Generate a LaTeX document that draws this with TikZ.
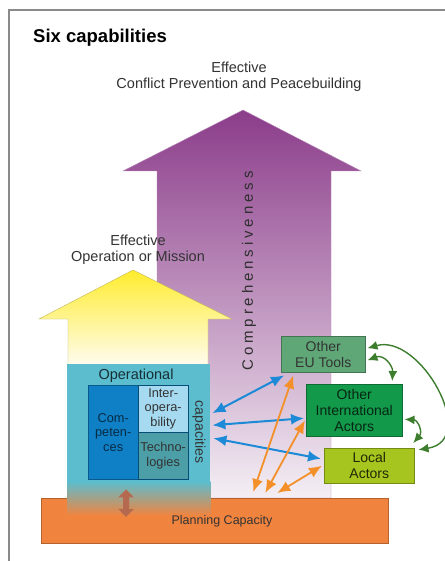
\documentclass[tikz,border=0pt]{standalone}
\usepackage{fontspec}
\setmainfont{Liberation Sans}
\usetikzlibrary{arrows.meta,calc}
\definecolor{frame}{HTML}{8A8A8A}
\definecolor{txt}{HTML}{333333}
\definecolor{purptop}{HTML}{8B3C8A}
\definecolor{purpbot}{HTML}{F4EFF4}
\definecolor{yeltop}{HTML}{FFEC2E}
\definecolor{yelbot}{HTML}{FFFCEF}
\definecolor{opteal}{HTML}{5CBDCE}
\definecolor{compblue}{HTML}{0F7FC6}
\definecolor{interblue}{HTML}{A6DAF1}
\definecolor{techteal}{HTML}{4C9EA7}
\definecolor{planor}{HTML}{F0843F}
\definecolor{eugreen}{HTML}{5FA777}
\definecolor{intgreen}{HTML}{13994A}
\definecolor{locgreen}{HTML}{A6C61F}
\definecolor{arrblue}{HTML}{1C8AD6}
\definecolor{arror}{HTML}{F39029}
\definecolor{arrgreen}{HTML}{3D7D2E}
\definecolor{arrbrown}{HTML}{B5694F}
\begin{document}
\begin{tikzpicture}[x=1pt,y=-1pt,
  lbl/.style={text=txt, align=center, inner sep=0pt, font=\fontsize{14.5}{16}\selectfont},
  inbox/.style={anchor=north west, inner sep=0pt, align=center, font=\fontsize{12.8}{14.5}\selectfont},
  agent/.style={anchor=north west, inner sep=0pt, align=center, draw=#1!70!black, line width=0.5pt, fill=#1, font=\fontsize{14}{16}\selectfont},
  barrow/.style={draw=arrblue, line width=2pt, arrows={Latex[length=13pt,width=11pt]-Latex[length=13pt,width=11pt]}},
  oarrow/.style={draw=arror, line width=1.8pt, arrows={Latex[length=13pt,width=11pt]-Latex[length=13pt,width=11pt]}},
  garrow/.style={draw=arrgreen, line width=1.4pt, arrows={Latex[length=10pt,width=9pt]-Latex[length=10pt,width=9pt]}}]
\useasboundingbox (0,0) rectangle (444,561);
\fill[white] (-3,-3) rectangle (447,564);
\draw[frame, line width=1.3pt] (9,565) -- (9,10) -- (448,10);

\node[anchor=west, inner sep=0pt, text=black, font=\bfseries\fontsize{18.5}{20}\selectfont] (title) at (33,38) {Six capabilities};
\node[lbl] (goal) at (239,77) {Effective\\Conflict Prevention and Peacebuilding};

% purple arrow
\shade[top color=purptop, bottom color=purpbot, draw=purptop!60!white, line width=0.4pt]
  (243,110) -- (361,171) -- (331,171) -- (331,498) -- (157,498) -- (157,171) -- (123,171) -- cycle;
\node[rotate=90, inner sep=0pt, text=txt!90!black, font=\fontsize{15}{15}\selectfont\addfontfeatures{LetterSpace=26}] (comp) at (249,271) {Comprehensiveness};

\node[lbl] (mission) at (138,250) {Effective\\Operation or Mission};
% yellow arrow
\shade[top color=yeltop, bottom color=yelbot, draw=yeltop!50!gray, line width=0.4pt]
  (133,270) -- (232,319) -- (208,319) -- (208,365) -- (68,365) -- (68,319) -- (39,319) -- cycle;

% planning capacity
\node[anchor=north west, fill=planor, draw=planor!75!black, line width=0.5pt, minimum width=347pt, minimum height=45pt, inner sep=0pt] (plan) at (41,498) {};

% operational box
\node[anchor=north west, fill=opteal, minimum width=143pt, minimum height=117pt, inner sep=0pt] (op) at (67,364) {};
\shade[top color=opteal, bottom color=planor] (op.south west) rectangle ($(op.south east)+(0,34)$);
\node[inner sep=0pt, text=txt, font=\fontsize{12.5}{14}\selectfont] (plantext) at (222,521) {Planning Capacity};
\node[lbl, text=black!75!opteal, font=\fontsize{14.5}{16}\selectfont] (optext) at (136,376) {Operational};
\node[inbox, fill=compblue, draw=compblue!70!black, line width=0.4pt, minimum width=50pt, minimum height=94pt, text=black!65!compblue] (compet) at (88,385) {Com-\\peten-\\ces};
\node[inbox, fill=interblue, draw=compblue!60!black, line width=0.4pt, minimum width=50pt, minimum height=47pt, text=txt] (interop) at (138,385) {Inter-\\opera-\\bility};
\node[inbox, fill=techteal, draw=compblue!60!black, line width=0.4pt, minimum width=50pt, minimum height=47pt, text=txt] (techno) at (138,432) {Techno-\\logies};
\node[rotate=-90, inner sep=0pt, text=txt, font=\fontsize{14}{14}\selectfont] (capac) at (199,432) {capacities};

\draw[draw=arrbrown, line width=6pt, arrows={Triangle[length=8pt,width=15pt]-Triangle[length=8pt,width=15pt]}]
  ($(op.south)+(-12.5,8)$) -- ($(plan.north west)+(85,19)$);

% actors
\node[agent=eugreen, minimum width=84pt, minimum height=36pt, text=txt] (eu) at (281,336) {Other\\EU Tools};
\node[agent=intgreen, minimum width=96pt, minimum height=52pt, text=black!75!intgreen] (intl) at (306,384) {Other\\International\\Actors};
\node[agent=locgreen, minimum width=90pt, minimum height=35pt, text=black!80!locgreen] (local) at (324,448) {Local\\Actors};

% blue arrows
\draw[barrow] ($(op.east)+(2,-9.5)$) -- ($(eu.south west)+(3,3)$);
\draw[barrow] ($(op.east)+(2,2.5)$) -- ($(intl.west)+(-2,8)$);
\draw[barrow] ($(op.east)+(3,15.5)$) -- ($(local.west)+(-3,-7)$);

% orange arrows
\draw[oarrow] ($(eu.south)+(-30,3)$) -- ($(plan.north)+(38.5,-6)$);
\draw[oarrow] ($(intl.west)+(-1,10)$) -- ($(plan.north)+(50.5,-5)$);
\draw[oarrow] ($(local.west)+(-2,0)$) -- ($(plan.north)+(62.5,-5)$);

% green arrows
\draw[garrow] ($(eu.east)+(2,6)$) .. controls (384,354) and (393,366) .. ($(intl.north)+(38,-3)$);
\draw[garrow] ($(eu.east)+(2,-6)$) .. controls (420,333) and (480,440) .. ($(local.east)+(4,-16)$);
\draw[garrow] ($(intl.east)+(2,9)$) .. controls (418,420) and (423,432) .. ($(local.north)+(44,-5)$);
\end{tikzpicture}
\end{document}
